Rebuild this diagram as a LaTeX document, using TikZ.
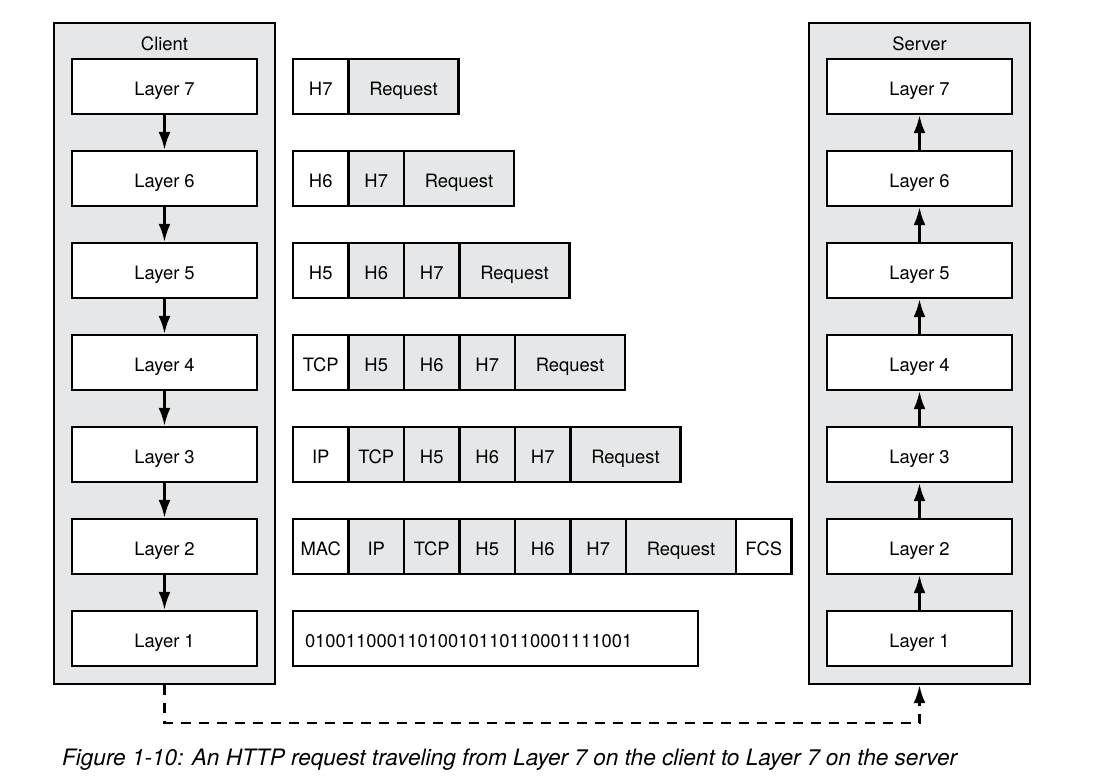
\documentclass[tikz,border=0pt]{standalone}
\usepackage{fontspec}
\setmainfont{TeX Gyre Heros}
\usepackage{tikz}
\usetikzlibrary{positioning,arrows.meta}
\definecolor{panelgray}{HTML}{E6E7E8}

\begin{document}
\begin{tikzpicture}[x=0.5pt,y=-0.5pt,>={Latex[length=9pt,width=6pt]},
    font=\fontsize{9.2}{11}\selectfont]
    \tikzstyle{host box}=[draw,line width=1.2pt,fill=panelgray,minimum width=110.5pt,minimum height=330.5pt]
    \tikzstyle{layer box}=[draw,line width=1.2pt,fill=white,minimum width=92.5pt,minimum height=27.5pt,text height=9.5pt,text depth=0pt]
    \tikzstyle{hdr}=[draw,line width=1.2pt,fill=white,outer sep=0pt,inner xsep=1pt,minimum width=27.75pt,minimum height=27.5pt,anchor=west,text height=9.5pt,text depth=0pt]
    \tikzstyle{old hdr}=[hdr,fill=panelgray]
    \tikzstyle{payload}=[old hdr,minimum width=55pt]
    \tikzstyle{layer link}=[->,line width=1.2pt]

\useasboundingbox (0,0) rectangle (1116,779);

% hosts
\node(client)[host box] at (164.5,353.5) {};
\node(server)[host box] at (919.5,353.5) {};
\node(clientname) at (164.5,44) {Client};
\node(servername) at (919.5,44) {Server};

% client stack
\node(c7)[layer box] at (164.5,86.5) {Layer 7};
\node(c6)[layer box] at (164.5,178.5) {Layer 6};
\node(c5)[layer box] at (164.5,270.5) {Layer 5};
\node(c4)[layer box] at (164.5,362.5) {Layer 4};
\node(c3)[layer box] at (164.5,454.5) {Layer 3};
\node(c2)[layer box] at (164.5,546.5) {Layer 2};
\node(c1)[layer box] at (164.5,638.5) {Layer 1};
\draw[layer link] (c7) -- (c6);
\draw[layer link] (c6) -- (c5);
\draw[layer link] (c5) -- (c4);
\draw[layer link] (c4) -- (c3);
\draw[layer link] (c3) -- (c2);
\draw[layer link] (c2) -- (c1);

% server stack
\node(s7)[layer box] at (919.5,86.5) {Layer 7};
\node(s6)[layer box] at (919.5,178.5) {Layer 6};
\node(s5)[layer box] at (919.5,270.5) {Layer 5};
\node(s4)[layer box] at (919.5,362.5) {Layer 4};
\node(s3)[layer box] at (919.5,454.5) {Layer 3};
\node(s2)[layer box] at (919.5,546.5) {Layer 2};
\node(s1)[layer box] at (919.5,638.5) {Layer 1};
\draw[layer link] (s1) -- (s2);
\draw[layer link] (s2) -- (s3);
\draw[layer link] (s3) -- (s4);
\draw[layer link] (s4) -- (s5);
\draw[layer link] (s5) -- (s6);
\draw[layer link] (s6) -- (s7);

% packets
\node(p7a)[hdr] at (293,86.5) {H7};
\node(p7b)[payload,right=0pt of p7a] {Request};

\node(p6a)[hdr] at (293,178.5) {H6};
\node(p6b)[old hdr,right=0pt of p6a] {H7};
\node(p6c)[payload,right=0pt of p6b] {Request};

\node(p5a)[hdr] at (293,270.5) {H5};
\node(p5b)[old hdr,right=0pt of p5a] {H6};
\node(p5c)[old hdr,right=0pt of p5b] {H7};
\node(p5d)[payload,right=0pt of p5c] {Request};

\node(p4a)[hdr] at (293,362.5) {TCP};
\node(p4b)[old hdr,right=0pt of p4a] {H5};
\node(p4c)[old hdr,right=0pt of p4b] {H6};
\node(p4d)[old hdr,right=0pt of p4c] {H7};
\node(p4e)[payload,right=0pt of p4d] {Request};

\node(p3a)[hdr] at (293,454.5) {IP};
\node(p3b)[old hdr,right=0pt of p3a] {TCP};
\node(p3c)[old hdr,right=0pt of p3b] {H5};
\node(p3d)[old hdr,right=0pt of p3c] {H6};
\node(p3e)[old hdr,right=0pt of p3d] {H7};
\node(p3f)[payload,right=0pt of p3e] {Request};

\node(p2a)[hdr] at (293,546.5) {MAC};
\node(p2b)[old hdr,right=0pt of p2a] {IP};
\node(p2c)[old hdr,right=0pt of p2b] {TCP};
\node(p2d)[old hdr,right=0pt of p2c] {H5};
\node(p2e)[old hdr,right=0pt of p2d] {H6};
\node(p2f)[old hdr,right=0pt of p2e] {H7};
\node(p2g)[payload,right=0pt of p2f] {Request};
\node(p2h)[hdr,right=0pt of p2g] {FCS};

\node(p1a)[hdr,inner xsep=6pt,text width=190.5pt,align=left] at (293,638.5) {01001100011010010110110001111001};

% wire
\draw[->,dashed,dash pattern=on 5pt off 4pt,line width=1.3pt] (client.south) -- ++(0,38) coordinate(wire) -| (server.south);

% caption
\node(caption)[anchor=west,font=\itshape\fontsize{11.3}{13}\selectfont] at (55,760) {Figure 1-10: An HTTP request traveling from Layer 7 on the client to Layer 7 on the server};
\end{tikzpicture}
\end{document}
